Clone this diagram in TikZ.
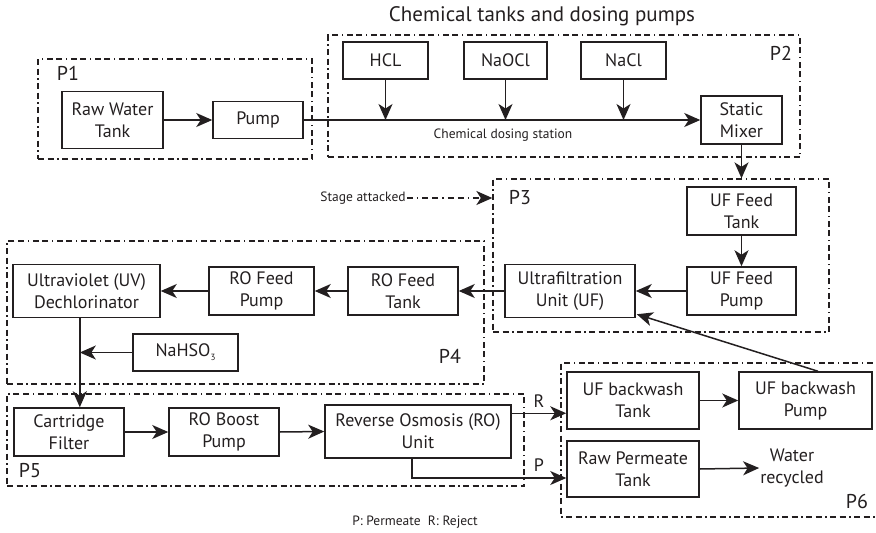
\documentclass[tikz,border=0pt]{standalone}
\usepackage{fontspec}
\setmainfont{PT Sans}
\usetikzlibrary{arrows.meta,calc}
\definecolor{ink}{HTML}{231F20}
\begin{document}
\begin{tikzpicture}[x=1pt,y=-1pt,
  every node/.style={text=ink},
  unit/.style={draw=ink, line width=1.5pt, align=center, inner sep=0pt,
    font=\fontsize{18}{22}\selectfont},
  group/.style={draw=ink, line width=1.3pt,
    dash pattern=on 6pt off 3.5pt on 6pt off 3.5pt on 1.5pt off 3.5pt, inner sep=0pt},
  tip/.style={-{Stealth[length=16pt,width=14pt,inset=4.5pt]}},
  flow/.style={draw=ink, line width=1.5pt, tip},
  attack/.style={draw=ink, line width=1.5pt,
    dash pattern=on 6pt off 4pt on 1.5pt off 4pt on 6pt off 4pt, tip},
  plabel/.style={font=\fontsize{20}{24}\selectfont, inner sep=0pt},
  note/.style={font=\fontsize{13.5}{16}\selectfont, inner sep=1pt},
  plain/.style={font=\fontsize{18}{22}\selectfont, align=center, inner sep=1pt}
]
\useasboundingbox (0,0) rectangle (876,533);

% process stage frames
\node[group, minimum width=274pt, minimum height=100pt] (g1) at (175,109) {};
\node[group, minimum width=472pt, minimum height=122pt] (g2) at (564,96) {};
\node[group, minimum width=336pt, minimum height=153pt] (g3) at (661,255.5) {};
\node[group, minimum width=477pt, minimum height=143pt] (g4) at (245.5,312.5) {};
\node[group, minimum width=517pt, minimum height=92pt] (g5) at (265.5,440) {};
\draw[group] (882,363) -- (561,363) -- (561,517) -- (882,517);

% stage labels
\node[plabel] (l1) at (68,73) {P1};
\node[plabel] (l2) at (781,53) {P2};
\node[plabel] (l3) at (520,198) {P3};
\node[plabel] (l4) at (450,356) {P4};
\node[plabel] (l5) at (30,471) {P5};
\node[plabel] (l6) at (857,501) {P6};

\node[font=\fontsize{21}{25}\selectfont, inner sep=0pt] (title) at (542,16) {Chemical tanks and dosing pumps};

% P1
\node[unit, minimum width=101pt, minimum height=57pt] (rawtank) at (112.5,120) {Raw Water\\Tank};
\node[unit, minimum width=90pt, minimum height=37pt] (pump) at (258,120) {Pump};

% P2
\node[unit, minimum width=85pt, minimum height=37pt] (hcl) at (385.5,60.5) {HCL};
\node[unit, minimum width=83pt, minimum height=37pt] (naocl) at (505.5,60.5) {NaOCl};
\node[unit, minimum width=85pt, minimum height=37pt] (nacl) at (623.5,60.5) {NaCl};
\node[unit, minimum width=81pt, minimum height=48pt] (mixer) at (741.5,120) {Static\\Mixer};
\node[note] (dosing) at (503,135) {Chemical dosing station};

% P3
\node[unit, minimum width=109pt, minimum height=48pt] (uftank) at (741.5,211) {UF Feed\\Tank};
\node[unit, minimum width=109pt, minimum height=48pt] (ufpump) at (741.5,291) {UF Feed\\Pump};
\node[unit, minimum width=130pt, minimum height=53pt] (ufunit) at (570,291) {Ultrafiltration\\Unit (UF)};
\node[note] (stage) at (363,198) {Stage attacked};

% P4
\node[unit, minimum width=110pt, minimum height=48pt] (rotank) at (403,291) {RO Feed\\Tank};
\node[unit, minimum width=105pt, minimum height=48pt] (ropump) at (261.5,291) {RO Feed\\Pump};
\node[unit, minimum width=147pt, minimum height=53pt] (uv) at (86.5,291) {Ultraviolet (UV)\\Dechlorinator};
\node[unit, minimum width=105pt, minimum height=37pt] (nahso) at (185.5,352.5)
  {NaHSO\raisebox{-0.45ex}{\fontsize{9}{9}\selectfont 3}};

% P5
\node[unit, minimum width=110pt, minimum height=48pt] (cartridge) at (69,432) {Cartridge\\Filter};
\node[unit, minimum width=110pt, minimum height=48pt] (roboost) at (224,432) {RO Boost\\Pump};
\node[unit, minimum width=186pt, minimum height=53pt] (rounit) at (418,431.5) {Reverse Osmosis (RO)\\Unit};

% P6
\node[unit, minimum width=132pt, minimum height=57pt] (bwtank) at (633,400.5) {UF backwash\\Tank};
\node[unit, minimum width=133pt, minimum height=57pt] (bwpump) at (805.5,400.5) {UF backwash\\Pump};
\node[unit, minimum width=132pt, minimum height=56pt] (permtank) at (633,469) {Raw Permeate\\Tank};
\node[plain] (water) at (792,468) {Water\\recycled};

\node[note] (legend) at (415,522) {P: Permeate\ \ R: Reject};

% flows
\draw[flow] (rawtank.east) -- (pump.west);
\draw[flow] (pump.east) -- (mixer.west);
\draw[flow] (hcl.south) -- (hcl.south |- pump.east);
\draw[flow] (naocl.south) -- (naocl.south |- pump.east);
\draw[flow] (nacl.south) -- (nacl.south |- pump.east);
\draw[flow] (mixer.south) -- (mixer.south |- g3.north);
\draw[attack] (stage.east) -- (stage.east -| g3.west);
\draw[flow] (uftank.south) -- (ufpump.north);
\draw[flow] (ufpump.west) -- (ufunit.east);
\draw[flow] (ufunit.west) -- (rotank.east);
\draw[flow] (rotank.west) -- (ropump.east);
\draw[flow] (ropump.west) -- (uv.east);
\coordinate (drop) at ($(uv.south west)!0.455!(uv.south east)$);
\draw[flow] (drop) -- (drop |- cartridge.north);
\draw[flow] (nahso.west) -- (drop |- nahso.west);
\draw[flow] (cartridge.east) -- (roboost.west);
\draw[flow] (roboost.east) -- (rounit.west);
\coordinate (rout) at ([yshift=-9pt]rounit.north east);
\draw[flow] (rout) -- (rout -| bwtank.west);
\node[plabel, font=\fontsize{18}{20}\selectfont] (rlab) at (539,401) {R};
\coordinate (pout) at ([xshift=-6pt]rounit.south);
\draw[flow] (pout) |- ([yshift=-9pt]permtank.west);
\node[plabel, font=\fontsize{18}{20}\selectfont] (plab) at (539,465) {P};
\draw[flow] (bwtank.east) -- (bwpump.west);
\draw[flow] (permtank.east) -- (water.west);
\draw[flow] ([xshift=12.5pt]bwpump.north) -- ([yshift=4pt,xshift=1pt]ufunit.south east);
\end{tikzpicture}
\end{document}
